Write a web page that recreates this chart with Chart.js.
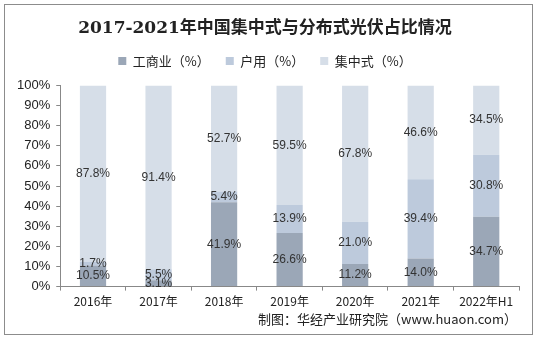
<!DOCTYPE html>
<html>
<head>
<meta charset="utf-8">
<script src="https://cdn.jsdelivr.net/npm/chart.js@4"></script>
<style>
    body { margin: 0; background: #fff; }
    #wrap { position: relative; width: 537px; height: 339px; }
    #frame { position: absolute; left: 4px; top: 4px; width: 527px; height: 329px; border: 1px solid #8c8c8c; pointer-events: none; }
</style>
</head>
<body>
<div id="wrap">
    <canvas id="chart" width="537" height="339"></canvas>
    <div id="frame"></div>
</div>
<script>
// Categories and series (percent)
const years = ['2016年', '2017年', '2018年', '2019年', '2020年', '2021年', '2022年H1'];
const commercial = [10.5, 3.1, 41.9, 26.6, 11.2, 14.0, 34.7];
const household = [1.7, 5.5, 5.4, 13.9, 21.0, 39.4, 30.8];
const centralized = [87.8, 91.4, 52.7, 59.5, 67.8, 46.6, 34.5];

const titleText = '2017-2021年中国集中式与分布式光伏占比情况';
const sourceText = '制图：华经产业研究院（www.huaon.com）';

// Draw value labels in the middle of each segment
const segmentLabels = {
    id: 'segmentLabels',
    afterDatasetsDraw(chart) {
        const ctx = chart.ctx;
        ctx.save();
        ctx.font = '12px "Liberation Sans", Arial, sans-serif';
        ctx.fillStyle = '#333';
        ctx.textAlign = 'center';
        ctx.textBaseline = 'middle';
        chart.data.datasets.forEach((ds, i) => {
            const meta = chart.getDatasetMeta(i);
            meta.data.forEach((bar, j) => {
                const y = (bar.y + bar.base) / 2;
                ctx.fillText(ds.data[j].toFixed(1) + '%', bar.x, y);
            });
        });
        ctx.restore();
    }
};

// Source note at the bottom right
const sourceNote = {
    id: 'sourceNote',
    afterDraw(chart) {
        const ctx = chart.ctx;
        ctx.save();
        ctx.font = '13px "Noto Sans CJK SC", sans-serif';
        ctx.fillStyle = '#222';
        ctx.textAlign = 'right';
        ctx.textBaseline = 'middle';
        ctx.fillText(sourceText, 517, 319);
        ctx.restore();
    }
};

// Extra space below the legend
const legendGap = {
    id: 'legendGap',
    beforeInit(chart) {
        const origFit = chart.legend.fit;
        chart.legend.fit = function () {
            origFit.call(this);
            this.height += 8;
        };
    }
};

const ctx = document.getElementById('chart').getContext('2d');
new Chart(ctx, {
    type: 'bar',
    data: {
        labels: years,
        datasets: [
            { label: '工商业（%）', data: commercial, backgroundColor: '#9ba7b7' },
            { label: '户用（%）', data: household, backgroundColor: '#bdcadc' },
            { label: '集中式（%）', data: centralized, backgroundColor: '#d6dee8' }
        ]
    },
    options: {
        responsive: false,
        animation: false,
        layout: { padding: { left: 11, right: 18, top: 6, bottom: 26 } },
        datasets: { bar: { categoryPercentage: 1, barPercentage: 0.4 } },
        plugins: {
            title: {
                display: true,
                text: titleText,
                color: '#222',
                font: { family: '"DejaVu Serif", "Noto Sans CJK SC", serif', size: 17, weight: 'bold' },
                padding: { top: 12, bottom: 0 }
            },
            legend: {
                display: true,
                position: 'top',
                labels: {
                    boxWidth: 8,
                    boxHeight: 8,
                    padding: 16,
                    color: '#222',
                    font: { family: '"Noto Sans CJK SC", sans-serif', size: 13 }
                }
            },
            tooltip: { enabled: false }
        },
        scales: {
            x: {
                stacked: true,
                grid: { display: true, drawOnChartArea: false, offset: true, tickLength: 4, color: '#888' },
                border: { display: true, color: '#888' },
                ticks: {
                    color: '#222',
                    padding: 4,
                    font: { family: '"Noto Sans CJK SC", sans-serif', size: 12 }
                }
            },
            y: {
                stacked: true,
                min: 0,
                max: 100,
                grid: { display: true, drawOnChartArea: false, tickLength: 4, color: '#888' },
                border: { display: true, color: '#888' },
                ticks: {
                    stepSize: 10,
                    autoSkip: false,
                    color: '#222',
                    padding: 6,
                    font: { family: '"Liberation Sans", Arial, sans-serif', size: 13 },
                    callback: v => v + '%'
                }
            }
        }
    },
    plugins: [segmentLabels, sourceNote, legendGap]
});
</script>
</body>
</html>
